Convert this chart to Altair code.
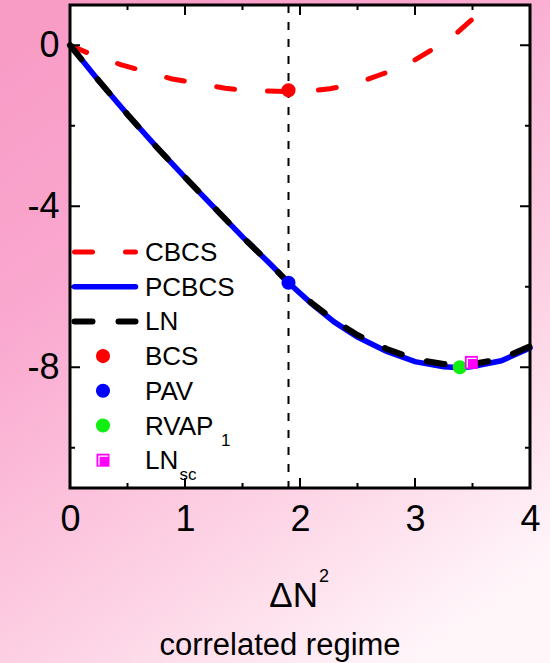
import altair as alt
import pandas as pd

# ---- data: energies versus ΔN² in the correlated regime ----
grid_x = [0.0, 0.25, 0.5, 0.75, 1.0, 1.25, 1.5, 1.75, 1.9, 2.1, 2.3, 2.5,
          2.75, 3.0, 3.25, 3.4, 3.5, 3.75, 4.0]
pcbcs_y = [0.0, -0.88, -1.72, -2.52, -3.28, -4.02, -4.76, -5.46, -5.90, -6.42,
           -6.88, -7.25, -7.60, -7.86, -7.99, -8.01, -7.98, -7.84, -7.52]
ln_y = [0.0, -0.88, -1.72, -2.52, -3.28, -4.02, -4.76, -5.46, -5.90, -6.40,
        -6.84, -7.20, -7.54, -7.80, -7.92, -7.94, -7.92, -7.79, -7.48]

cbcs_x = [0.0, 0.18, 0.44, 0.64, 0.89, 1.10, 1.35, 1.56, 1.90, 2.03, 2.26,
          2.47, 2.71, 2.91, 3.17, 3.37, 3.63, 3.70]
cbcs_y = [0.0, -0.22, -0.48, -0.64, -0.84, -0.94, -1.07, -1.13, -1.15, -1.15,
          -1.08, -0.97, -0.72, -0.52, -0.07, 0.32, 0.98, 1.15]

bcs_pt = [1.9, -1.12]
pav_pt = [1.9, -5.90]
rvap_pt = [3.39, -8.00]
lnsc_pt = [3.49, -7.88]
marker_x = 1.9

x_major = [0, 1, 2, 3, 4]
x_minor = [0.5, 1.5, 2.5, 3.5]
y_major = [0, -4, -8]
y_minor = [-2, -6, -10]

# ---- layout ----
W, H = 460, 483
PAD_L, PAD_T, PAD_R, PAD_B = 70, 5, 20, 175
FONT = "Liberation Sans"
RED, BLUE, GREEN, MAGENTA = "#ff0000", "#0000ff", "#11ee11", "#ff00ff"
RED_DASH, BLACK_DASH = [18, 33], [18, 26]
DOT = 200
SQ = 169

xs = alt.Scale(domain=[0, 4], nice=False, zero=False)
ys = alt.Scale(domain=[-11, 1], nice=False, zero=False)

x_axis = alt.Axis(values=x_major, title=None, grid=False, domain=False,
                  ticks=False, tickSize=0, labelPadding=14, labelFontSize=36,
                  labelFont=FONT, labelColor="black", zindex=2,
                  labelFlush=False, labelOverlap=False,
                  labelExpr="toString(datum.value)")
y_axis = alt.Axis(values=y_major, title=None, grid=False, domain=False,
                  ticks=False, tickSize=0, labelPadding=11, labelFontSize=36,
                  labelFont=FONT, labelColor="black", zindex=2,
                  labelFlush=False, labelOverlap=False,
                  labelExpr="toString(datum.value)")


def X(field="x"):
    return alt.X(f"{field}:Q", scale=xs, axis=x_axis)


def Y(field="y"):
    return alt.Y(f"{field}:Q", scale=ys, axis=y_axis)


one = pd.DataFrame({"k": [0]})


def pts(p):
    return pd.DataFrame({"x": [p[0]], "y": [p[1]]})


# page background and white plot area
bg = alt.Chart(one).mark_rect(color={
    "gradient": "linear", "x1": 0.15, "y1": 0, "x2": 0.75, "y2": 1,
    "stops": [
        {"offset": 0, "color": "#f89cc6"},
        {"offset": 0.3, "color": "#faa8cf"},
        {"offset": 0.7, "color": "#fdd2e4"},
        {"offset": 1, "color": "#fff6fa"},
    ]}).encode(x=alt.value(-PAD_L), x2=alt.value(W + PAD_R),
               y=alt.value(-PAD_T), y2=alt.value(H + PAD_B))
plot_bg = alt.Chart(one).mark_rect(color="white").encode(
    x=alt.value(0), x2=alt.value(W), y=alt.value(0), y2=alt.value(H))

vline = alt.Chart(pd.DataFrame({"x": [marker_x]})).mark_rule(
    color="black", strokeWidth=2, strokeDash=[8, 9]).encode(
    x=X(), y=alt.value(0), y2=alt.value(H))

cbcs = alt.Chart(pd.DataFrame({"x": cbcs_x, "y": cbcs_y})).mark_line(
    color=RED, strokeWidth=5, strokeDash=RED_DASH, strokeCap="round",
    clip=True).encode(x=X(), y=Y())

pcbcs = alt.Chart(pd.DataFrame({"x": grid_x, "y": pcbcs_y})).mark_line(
    color=BLUE, strokeWidth=5.5, strokeCap="round").encode(x=X(), y=Y())

ln = alt.Chart(pd.DataFrame({"x": grid_x, "y": ln_y})).mark_line(
    color="black", strokeWidth=6, strokeDash=BLACK_DASH,
    strokeCap="round").encode(x=X(), y=Y())


def dot(p, color, **kw):
    return alt.Chart(pts(p)).mark_point(filled=True, opacity=1, color=color,
                                        **kw).encode(x=X(), y=Y())


bcs = dot(bcs_pt, RED, size=DOT)
pav = dot(pav_pt, BLUE, size=DOT)
rvap = dot(rvap_pt, GREEN, size=DOT)
lnsc = dot(lnsc_pt, MAGENTA, size=SQ, shape="square")
LSHAPE = "M -0.62 0.8 L -0.62 -0.62 L 0.8 -0.62"
lnsc_hi = alt.Chart(pts(lnsc_pt)).mark_point(
    shape=LSHAPE, size=SQ, filled=False, color="white", strokeWidth=1.3,
    opacity=1).encode(x=X(), y=Y())


# inward ticks on all four sides
def xticks(vals, length, top):
    y0 = 0 if top else H
    y1 = length if top else H - length
    return alt.Chart(pd.DataFrame({"v": vals})).mark_rule(
        color="black", strokeWidth=2).encode(
        x=X("v"), y=alt.value(y0), y2=alt.value(y1))


def yticks(vals, length, right):
    x0 = W if right else 0
    x1 = W - length if right else length
    return alt.Chart(pd.DataFrame({"v": vals})).mark_rule(
        color="black", strokeWidth=2).encode(
        y=Y("v"), x=alt.value(x0), x2=alt.value(x1))


ticks = [xticks(x_major, 10, False), xticks(x_minor, 5, False),
         xticks(x_major, 10, True), xticks(x_minor, 5, True),
         yticks(y_major, 10, False), yticks(y_minor, 5, False),
         yticks(y_major, 10, True), yticks(y_minor, 5, True)]

frame = alt.Chart(one).mark_rect(fillOpacity=0, stroke="black",
                                 strokeWidth=3).encode(
    x=alt.value(0), x2=alt.value(W), y=alt.value(0), y2=alt.value(H))

# ---- legend ----
LEG_TOP, LEG_STEP = 247, 34.7
LINE_X0, LINE_X1, SYM_X, TEXT_X = 4.5, 65.5, 33, 75
LEG_FS, SUB_FS = 26, 17
row_y = [LEG_TOP + i * LEG_STEP for i in range(7)]


def leg_line(i, color, width, dash=None):
    kw = {"strokeDash": dash} if dash else {}
    return alt.Chart(one).mark_rule(color=color, strokeWidth=width,
                                    strokeCap="round", **kw).encode(
        x=alt.value(LINE_X0), x2=alt.value(LINE_X1), y=alt.value(row_y[i]))


def leg_text(i, label, x=TEXT_X, dy=9, size=LEG_FS):
    return alt.Chart(one).mark_text(text=label, align="left",
                                    baseline="alphabetic", fontSize=size,
                                    font=FONT, color="black").encode(
        x=alt.value(x), y=alt.value(row_y[i] + dy))


def leg_sym(i, color, shape="circle", size=DOT, filled=True, width=1):
    return alt.Chart(one).mark_point(shape=shape, size=size, filled=filled,
                                     color=color, opacity=1,
                                     strokeWidth=width).encode(
        x=alt.value(SYM_X), y=alt.value(row_y[i]))


legend = [
    leg_line(0, RED, 5, RED_DASH), leg_text(0, "CBCS"),
    leg_line(1, BLUE, 5.5), leg_text(1, "PCBCS"),
    leg_line(2, "black", 6, BLACK_DASH), leg_text(2, "LN"),
    leg_sym(3, RED), leg_text(3, "BCS"),
    leg_sym(4, BLUE), leg_text(4, "PAV"),
    leg_sym(5, GREEN), leg_text(5, "RVAP"), leg_text(5, "1", x=151, dy=20, size=SUB_FS),
    leg_sym(6, MAGENTA, shape="square", size=SQ),
    leg_sym(6, "white", shape=LSHAPE, size=SQ, filled=False, width=1.3),
    leg_text(6, "LN"), leg_text(6, "sc", x=109.5, dy=20, size=SUB_FS),
]

# ---- axis title and caption ----
title_main = alt.Chart(one).mark_text(text="ΔN", align="right",
                                      baseline="alphabetic", fontSize=35,
                                      font=FONT, color="black").encode(
    x=alt.value(248), y=alt.value(602))
title_sup = alt.Chart(one).mark_text(text="2", align="left",
                                     baseline="alphabetic", fontSize=18,
                                     font=FONT, color="black").encode(
    x=alt.value(249), y=alt.value(577))
caption = alt.Chart(one).mark_text(text="correlated regime", align="center",
                                   baseline="alphabetic", fontSize=31,
                                   font=FONT, color="black").encode(
    x=alt.value(210), y=alt.value(650))

layers = ([bg, plot_bg, vline, cbcs, pcbcs, ln, bcs, pav, rvap, lnsc, lnsc_hi]
          + ticks + [frame] + legend + [title_main, title_sup, caption])

chart = alt.layer(*layers).properties(
    width=W, height=H, autosize="none",
    padding={"left": PAD_L, "top": PAD_T, "right": PAD_R, "bottom": PAD_B},
    background="white",
).configure_view(stroke=None)

chart.save("out.html", embed_options={"renderer": "svg", "actions": False})
